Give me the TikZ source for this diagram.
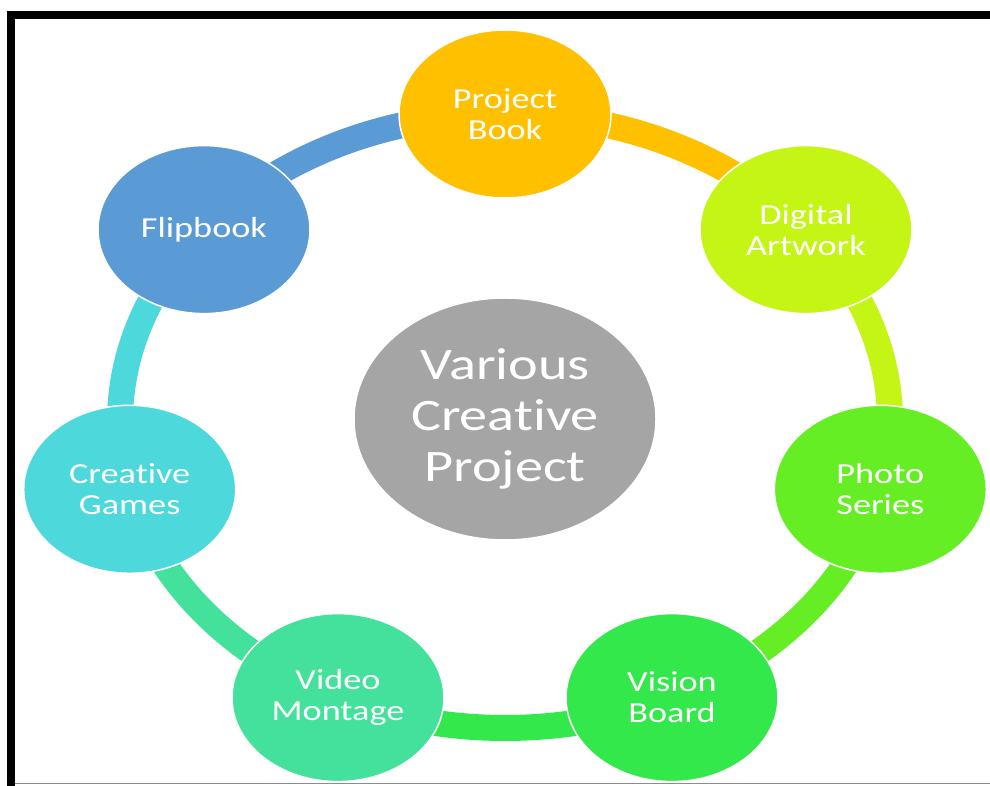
\documentclass[tikz,border=0pt]{standalone}
\usepackage{fontspec}
\newfontfamily\widefont[FakeStretch=1.25,Ligatures={NoCommon}]{Carlito}
\usetikzlibrary{shapes.geometric}
\definecolor{cPB}{HTML}{FFC000}
\definecolor{cDA}{HTML}{C4F515}
\definecolor{cPS}{HTML}{66EE24}
\definecolor{cVB}{HTML}{33E84A}
\definecolor{cVM}{HTML}{44E19D}
\definecolor{cCG}{HTML}{4DD8DC}
\definecolor{cFB}{HTML}{5B9BD5}
\definecolor{cC}{HTML}{A5A5A5}
\tikzset{
  item/.style={ellipse, draw=white, line width=1.5pt, minimum width=212pt, minimum height=168pt,
    inner sep=0pt, text=white, align=center,
    font=\widefont\fontsize{29pt}{31pt}\selectfont},
  hub/.style={ellipse, draw=white, line width=1.5pt, fill=cC, minimum width=302pt, minimum height=242pt,
    inner sep=0pt, text=white, align=center,
    font=\widefont\fontsize{45pt}{51pt}\selectfont},
  band/.style={line width=26pt},
  rad/.style={x radius=385pt, y radius=307pt}
}
\begin{document}
\begin{tikzpicture}[x=1pt,y=1pt]
\useasboundingbox (0,0) rectangle (990,785);
\clip (0,0) rectangle (990,785);
\fill[white] (0,0) rectangle (990,785);
% frame
\draw[line width=8pt] (11,-10) -- (11,770) -- (1000,770);
\draw[black!45, line width=1.2pt] (15,1.5) -- (1000,1.5);
% node positions
\coordinate (pPB) at (505,671);
\coordinate (pDA) at (806.0,555.4);
\coordinate (pPS) at (880.3,295.7);
\coordinate (pVB) at (672.0,87.4);
\coordinate (pVM) at (338.0,87.4);
\coordinate (pCG) at (129.7,295.7);
\coordinate (pFB) at (204.0,555.4);
% ring bands
\draw[band, cPB] (pPB) arc[start angle=90, end angle=38.571, rad];
\draw[band, cDA] (pDA) arc[start angle=38.571, end angle=-12.857, rad];
\draw[band, cPS] (pPS) arc[start angle=-12.857, end angle=-64.286, rad];
\draw[band, cVB] (pVB) arc[start angle=-64.286, end angle=-115.714, rad];
\draw[band, cVM] (pVM) arc[start angle=-115.714, end angle=-167.143, rad];
\draw[band, cCG] (pCG) arc[start angle=192.857, end angle=141.429, rad];
\draw[band, cFB] (pFB) arc[start angle=141.429, end angle=90, rad];
% nodes
\node[item, fill=cPB] (pb) at (pPB) {Project\\Book};
\node[item, fill=cDA] (da) at (pDA) {Digital\\Artwork};
\node[item, fill=cPS] (ps) at (pPS) {Photo\\Series};
\node[item, fill=cVB] (vb) at (pVB) {Vision\\Board};
\node[item, fill=cVM] (vm) at (pVM) {Video\\Montage};
\node[item, fill=cCG] (cg) at (pCG) {Creat\kern0pt ive\\Games};
\node[item, fill=cFB] (fb) at (pFB) {Flipbook};
\node[hub] (hub) at (505,366) {Various\\Creat\kern0pt ive\\Project};
\end{tikzpicture}
\end{document}
